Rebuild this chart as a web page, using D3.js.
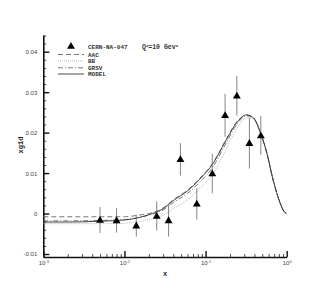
<!DOCTYPE html>
<html>
<head>
<meta charset="utf-8">
<script src="https://cdn.jsdelivr.net/npm/d3@7"></script>
<style>
  body { margin: 0; background: #fff; }
  .tick text { font-family: "Liberation Sans", Arial, sans-serif; font-size: 6px; fill: #444; }
  .legend text { font-family: "Liberation Mono", monospace; font-weight: bold; font-size: 6px; fill: #333; }
</style>
</head>
<body>
<div id="chart"></div>
<script>
// data points (CERN-NA-047)
const dataX = [0.005, 0.008, 0.014, 0.025, 0.035, 0.049, 0.078, 0.121, 0.174, 0.243, 0.347, 0.48];
const dataY = [-0.0016, -0.0017, -0.003, -0.0006, -0.0017, 0.0134, 0.0024, 0.0099, 0.0243, 0.0291, 0.0174, 0.0193];
const dataErr = [0.0032, 0.003, 0.0027, 0.0036, 0.004, 0.004, 0.0039, 0.0049, 0.0053, 0.0049, 0.0063, 0.0048];

// curves
const curveX = [0.001, 0.002, 0.005, 0.01, 0.015, 0.02, 0.03, 0.04, 0.06, 0.085, 0.125, 0.18, 0.25, 0.32, 0.39, 0.47, 0.57, 0.68, 0.83, 0.92, 1.0];
const modelY = [-0.0021, -0.0021, -0.0019, -0.0016, -0.0010, -0.0003, 0.0012, 0.0032, 0.0056, 0.0085, 0.0125, 0.0182, 0.0228, 0.0244, 0.0236, 0.0202, 0.0149, 0.0083, 0.0026, 0.0006, 0.0];
const aacY = [-0.0008, -0.0008, -0.0008, -0.0008, -0.0004, 0.0000, 0.0014, 0.0034, 0.0058, 0.0087, 0.0127, 0.0184, 0.0230, 0.0243, 0.0236, 0.0202, 0.0149, 0.0083, 0.0026, 0.0006, 0.0];
const grsvY = [-0.0018, -0.0018, -0.0017, -0.0015, -0.0010, -0.0004, 0.0009, 0.0027, 0.0050, 0.0078, 0.0117, 0.0175, 0.0224, 0.0242, 0.0236, 0.0202, 0.0149, 0.0083, 0.0026, 0.0006, 0.0];
const bbY = [-0.0025, -0.0025, -0.0025, -0.0024, -0.0020, -0.0015, -0.0004, 0.0012, 0.0034, 0.0062, 0.0100, 0.0160, 0.0214, 0.0237, 0.0235, 0.0203, 0.0150, 0.0084, 0.0026, 0.0006, 0.0];

const yTicks = [-0.01, 0, 0.01, 0.02, 0.03, 0.04];
const yTickLabels = ["-0.01", "0", "0.01", "0.02", "0.03", "0.04"];
const xTicks = [0.001, 0.01, 0.1, 1];
const xTickExp = ["-3", "-2", "-1", "0"];

const series = [
    {name: "AAC", values: aacY, color: "#555", dash: "5,3", width: 0.8},
    {name: "BB", values: bbY, color: "#aaa", dash: "1,1", width: 0.8},
    {name: "GRSV", values: grsvY, color: "#555", dash: "5,2,1,2", width: 0.8},
    {name: "MODEL", values: modelY, color: "#333", dash: null, width: 0.9}
];

const width = 327, height = 291;

const svg = d3.select("#chart").append("svg")
    .attr("width", width)
    .attr("height", height);

const x = d3.scaleLog().domain([0.001, 1]).range([43.3, 286.7]);
let y = d3.scaleLinear().domain([-0.01, 0.04]).range([254, 51.7]);
y = y.copy().domain([y.invert(257), y.invert(35)]).range([257, 35]);

// minor ticks
const yMinor = d3.range(-0.01, 0.0441, 0.002).filter(v => !yTicks.some(t => Math.abs(t - v) < 1e-6));
const xMinor = [];
[0.001, 0.01, 0.1].forEach(d => { for (let k = 2; k <= 9; k++) xMinor.push(d * k); });

// y axis
svg.append("g")
    .attr("transform", `translate(${x.range()[0]},0)`)
    .call(d3.axisLeft(y).tickValues(yMinor).tickSize(-3).tickFormat(""))
    .call(g => g.select(".domain").remove())
    .selectAll("line").attr("stroke", "#222").attr("stroke-width", 0.8);

const yAxis = svg.append("g")
    .attr("transform", `translate(${x.range()[0]},0)`)
    .call(d3.axisLeft(y).tickValues(yTicks).tickSize(-6).tickSizeOuter(0).tickPadding(6)
        .tickFormat((d, i) => yTickLabels[i]));
yAxis.select(".domain").attr("stroke", "#111").attr("stroke-width", 1.6);
yAxis.selectAll(".tick line").attr("stroke", "#111").attr("stroke-width", 1.4);

// x axis
svg.append("g")
    .attr("transform", `translate(0,${y.range()[0]})`)
    .call(d3.axisBottom(x).tickValues(xMinor).tickSize(-3).tickFormat(""))
    .call(g => g.select(".domain").remove())
    .selectAll("line").attr("stroke", "#222").attr("stroke-width", 0.8);

const xAxis = svg.append("g")
    .attr("transform", `translate(0,${y.range()[0]})`)
    .call(d3.axisBottom(x).tickValues(xTicks).tickSize(-6).tickSizeOuter(0).tickPadding(4).tickFormat(""));
xAxis.select(".domain").attr("stroke", "#111").attr("stroke-width", 1.6);
xAxis.selectAll(".tick line").attr("stroke", "#111").attr("stroke-width", 1.4);
xAxis.selectAll(".tick text").each(function(d, i) {
    const t = d3.select(this);
    t.append("tspan").text("10");
    t.append("tspan").attr("dy", "-0.5em").style("font-size", "4px").text(xTickExp[i]);
});

// axis titles
svg.append("text")
    .attr("x", (x.range()[0] + x.range()[1]) / 2)
    .attr("y", 276)
    .attr("text-anchor", "middle")
    .style("font-family", "Liberation Mono, monospace")
    .style("font-weight", "bold")
    .style("font-size", "7px")
    .style("fill", "#222")
    .text("x");

svg.append("text")
    .attr("transform", "translate(23,145) rotate(-90)")
    .attr("text-anchor", "middle")
    .style("font-family", "Liberation Mono, monospace")
    .style("font-weight", "bold")
    .style("font-size", "7px")
    .style("fill", "#222")
    .text("xg1d");

// curves
const line = d3.line()
    .x(d => x(d[0]))
    .y(d => y(d[1]))
    .curve(d3.curveMonotoneX);

series.forEach(s => {
    svg.append("path")
        .datum(curveX.map((v, i) => [v, s.values[i]]))
        .attr("fill", "none")
        .attr("stroke", s.color)
        .attr("stroke-width", s.width)
        .attr("stroke-dasharray", s.dash)
        .attr("d", line);
});

// error bars
svg.selectAll(".err")
    .data(dataX)
    .enter()
    .append("line")
    .attr("class", "err")
    .attr("x1", d => x(d))
    .attr("x2", d => x(d))
    .attr("y1", (d, i) => y(dataY[i] + dataErr[i]))
    .attr("y2", (d, i) => y(dataY[i] - dataErr[i]))
    .attr("stroke", "#777")
    .attr("stroke-width", 0.9);

// triangles
const tri = d3.symbol().type(d3.symbolTriangle).size(27);
svg.selectAll(".pt")
    .data(dataX)
    .enter()
    .append("path")
    .attr("class", "pt")
    .attr("d", tri)
    .attr("transform", (d, i) => `translate(${x(d)},${y(dataY[i]) + 0.5})`)
    .attr("fill", "#000");

// legend
const legend = svg.append("g").attr("class", "legend");
legend.append("path")
    .attr("d", tri)
    .attr("transform", "translate(71,46.5)")
    .attr("fill", "#000");
legend.append("text").attr("x", 88).attr("y", 48.5).text("CERN-NA-047");
const q = legend.append("text").attr("x", 142).attr("y", 48.5).style("font-size", "6.5px");
q.append("tspan").text("Q");
q.append("tspan").attr("dy", "-2").style("font-size", "4px").text("2");
q.append("tspan").attr("dy", "2").text("=10 Gev");
q.append("tspan").attr("dy", "-2").style("font-size", "4px").text("2");

const legendY = [54.5, 61, 67.8, 74];
series.forEach((s, i) => {
    legend.append("line")
        .attr("x1", 58).attr("x2", 84)
        .attr("y1", legendY[i]).attr("y2", legendY[i])
        .attr("stroke", s.color)
        .attr("stroke-width", s.width)
        .attr("stroke-dasharray", s.dash);
    legend.append("text")
        .attr("x", 88)
        .attr("y", legendY[i] + 2)
        .text(s.name);
});
</script>
</body>
</html>
